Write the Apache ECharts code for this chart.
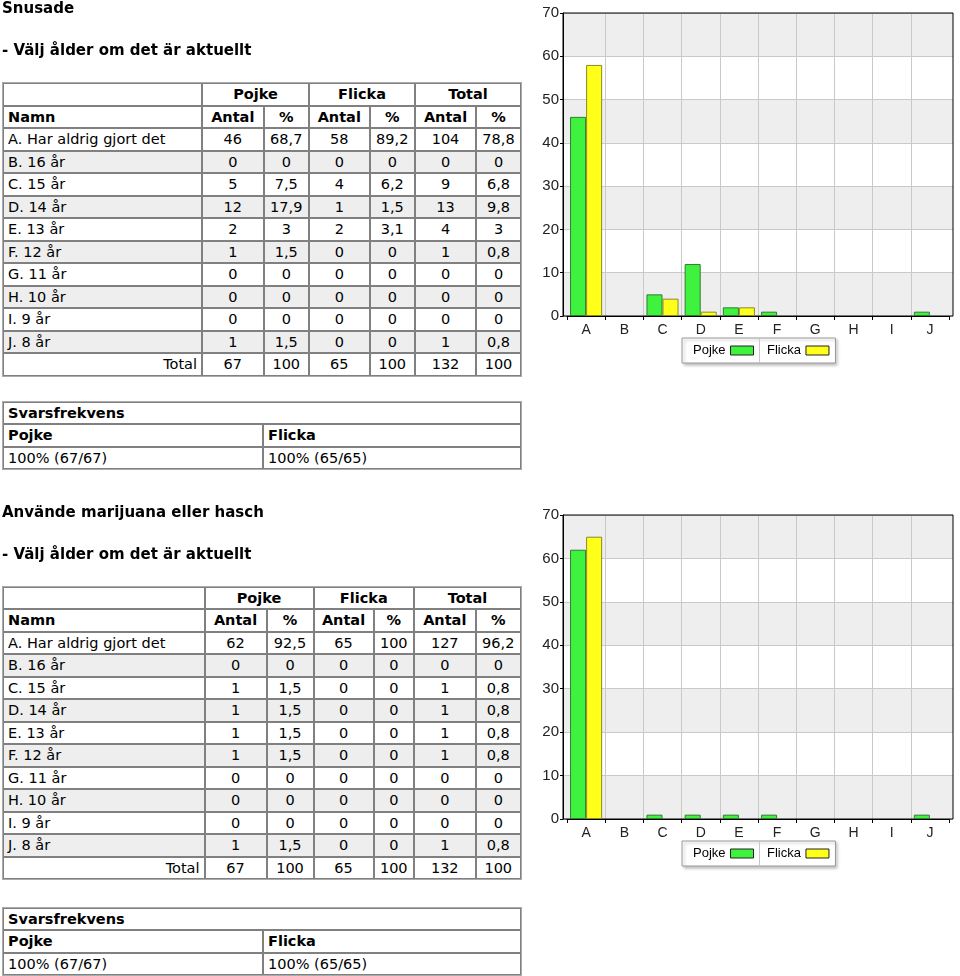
<!DOCTYPE html>
<html>
<head>
<meta charset="utf-8">
<script src="https://cdn.jsdelivr.net/npm/echarts@6/dist/echarts.min.js"></script>
<style>
html,body{margin:0;padding:0;background:#fff;}
body{width:960px;height:976px;overflow:hidden;position:relative;font-family:'DejaVu Sans',Verdana,sans-serif;font-size:14.5px;color:#000;}
#chart{position:absolute;left:0;top:0;width:960px;height:976px;z-index:0;}
.title{position:absolute;left:2px;font-weight:bold;font-size:15px;line-height:17px;white-space:nowrap;z-index:1;}
table.t{position:absolute;left:2px;border:1px solid #ababab;border-spacing:0;table-layout:fixed;width:520px;z-index:1;background:#fff;font-size:14.5px;}
table.t td{border:1px solid #808080;padding:0 4px;box-sizing:border-box;white-space:nowrap;overflow:hidden;text-align:center;vertical-align:middle;}
table.t td.l{text-align:left;}
table.t td.r{text-align:right;}
table.t td.b{font-weight:bold;}
table.t tr.g td{background:#eeeeee;}
</style>
</head>
<body>
<div id="chart"></div>
<div id="page"></div>
<script>
// ---------- data ----------
const categories = ['A','B','C','D','E','F','G','H','I','J'];
const rowNames = ['A. Har aldrig gjort det','B. 16 år','C. 15 år','D. 14 år','E. 13 år','F. 12 år','G. 11 år','H. 10 år','I. 9 år','J. 8 år'];
const groupNames = ['Pojke','Flicka','Total'];
const subHeaders = ['Antal','%'];
const yTicks = [0,10,20,30,40,50,60,70];

const snusTitle = 'Snusade';
const snusSubtitle = '- Välj ålder om det är aktuellt';
const snusPojkeAntal = [46,0,5,12,2,1,0,0,0,1];
const snusPojkePct = ['68,7','0','7,5','17,9','3','1,5','0','0','0','1,5'];
const snusFlickaAntal = [58,0,4,1,2,0,0,0,0,0];
const snusFlickaPct = ['89,2','0','6,2','1,5','3,1','0','0','0','0','0'];
const snusTotalAntal = [104,0,9,13,4,1,0,0,0,1];
const snusTotalPct = ['78,8','0','6,8','9,8','3','0,8','0','0','0','0,8'];
const snusTotals = ['67','100','65','100','132','100'];
const snusSvars = ['100% (67/67)','100% (65/65)'];

const mariTitle = 'Använde marijuana eller hasch';
const mariSubtitle = '- Välj ålder om det är aktuellt';
const mariPojkeAntal = [62,0,1,1,1,1,0,0,0,1];
const mariPojkePct = ['92,5','0','1,5','1,5','1,5','1,5','0','0','0','1,5'];
const mariFlickaAntal = [65,0,0,0,0,0,0,0,0,0];
const mariFlickaPct = ['100','0','0','0','0','0','0','0','0','0'];
const mariTotalAntal = [127,0,1,1,1,1,0,0,0,1];
const mariTotalPct = ['96,2','0','0,8','0,8','0,8','0,8','0','0','0','0,8'];
const mariTotals = ['67','100','65','100','132','100'];
const mariSvars = ['100% (67/67)','100% (65/65)'];

// ---------- page text / tables ----------
const page = document.getElementById('page');
function addTitle(text, top){
  const d = document.createElement('div');
  d.className = 'title'; d.style.top = top + 'px'; d.textContent = text;
  page.appendChild(d);
}
function buildTable(top, colW, pa, pp, fa, fp, ta, tp, totals, rowH){
  const t = document.createElement('table');
  t.className = 't'; t.style.top = top + 'px';
  let h = '<colgroup>' + colW.map(w => '<col style="width:' + w + 'px">').join('') + '</colgroup>';
  h += '<tr style="height:' + rowH + 'px"><td></td>' + groupNames.map(g => '<td class="b" colspan="2">' + g + '</td>').join('') + '</tr>';
  h += '<tr style="height:' + rowH + 'px"><td class="l b">Namn</td>' + groupNames.map(() => subHeaders.map(s => '<td class="b">' + s + '</td>').join('')).join('') + '</tr>';
  rowNames.forEach((n, i) => {
    h += '<tr class="' + (i % 2 ? 'g' : '') + '" style="height:' + rowH + 'px"><td class="l">' + n + '</td>' +
      [pa[i], pp[i], fa[i], fp[i], ta[i], tp[i]].map(v => '<td>' + v + '</td>').join('') + '</tr>';
  });
  h += '<tr style="height:' + rowH + 'px"><td class="r">Total</td>' + totals.map(v => '<td>' + v + '</td>').join('') + '</tr>';
  t.innerHTML = h;
  page.appendChild(t);
}
function buildSvars(top, svars, rowH){
  const t = document.createElement('table');
  t.className = 't'; t.style.top = top + 'px';
  let h = '<colgroup><col style="width:260px"><col style="width:258px"></colgroup>';
  h += '<tr style="height:' + rowH + 'px"><td class="l b" colspan="2">Svarsfrekvens</td></tr>';
  h += '<tr style="height:' + rowH + 'px"><td class="l b">Pojke</td><td class="l b">Flicka</td></tr>';
  h += '<tr style="height:' + rowH + 'px"><td class="l">' + svars[0] + '</td><td class="l">' + svars[1] + '</td></tr>';
  t.innerHTML = h;
  page.appendChild(t);
}
addTitle(snusTitle, 0);
addTitle(snusSubtitle, 42);
buildTable(82, [199,61.5,45.5,60.5,45.5,61,45], snusPojkeAntal, snusPojkePct, snusFlickaAntal, snusFlickaPct, snusTotalAntal, snusTotalPct, snusTotals, 22.5);
buildSvars(401, snusSvars, 22.3);
addTitle(mariTitle, 503.5);
addTitle(mariSubtitle, 546);
buildTable(585.5, [201.5,62,47,60,40.5,61.5,45.5], mariPojkeAntal, mariPojkePct, mariFlickaAntal, mariFlickaPct, mariTotalAntal, mariTotalPct, mariTotals, 22.5);
buildSvars(907, mariSvars, 22.3);

// ---------- charts ----------
const chart = echarts.init(document.getElementById('chart'), null, {renderer:'canvas'});
const FONT = 'Liberation Sans';
const GREEN = '#3ef23e', YELLOW = '#ffff1a';
const nz = arr => arr.map(v => v === 0 ? null : v);

function frameGrid(top, h){ return {left:563, top:top, width:390, height:h, show:true, borderColor:'#000', borderWidth:1, backgroundColor:'transparent', z:3}; }
function dataGrid(top, h){ return {left:567, top:top, width:382, height:h}; }

const yMin = yTicks[0], yMax = yTicks[yTicks.length-1], yInt = yTicks[1]-yTicks[0];
function frameY(gi){ return {gridIndex:gi, type:'value', min:yMin, max:yMax, interval:yInt,
  axisLine:{show:true, lineStyle:{color:'#000', width:1}},
  axisTick:{show:true, length:3, lineStyle:{color:'#000'}},
  axisLabel:{fontFamily:FONT, fontSize:15, color:'#222', margin:4},
  splitLine:{show:true, lineStyle:{color:'#c9c9c9', width:1}},
  splitArea:{show:true, areaStyle:{color:['#eeeeee','#ffffff']}}}; }
function dataY(gi){ return {gridIndex:gi, type:'value', min:yMin, max:yMax, interval:yInt, show:false, splitLine:{show:false}}; }
function frameX(gi){ return {gridIndex:gi, type:'value', min:0, max:1, show:false, splitLine:{show:false}}; }
function dataX(gi){ return {gridIndex:gi, type:'category', data:categories,
  axisLine:{show:true, lineStyle:{color:'#000'}},
  axisTick:{show:true, length:4, lineStyle:{color:'#000'}},
  axisLabel:{fontFamily:FONT, fontSize:14, color:'#222', margin:7},
  splitLine:{show:true, showMinLine:false, showMaxLine:false, lineStyle:{color:'#c9c9c9'}}}; }
function legend(top){ return {left:682, top:top, orient:'horizontal', align:'right', data:['Pojke','Flicka'],
  icon:'rect', itemWidth:23, itemHeight:9, itemGap:13, padding:[6,6,6,11],
  backgroundColor:'#fff', borderColor:'#9a9a9a', borderWidth:1,
  shadowBlur:3, shadowColor:'rgba(0,0,0,0.25)', shadowOffsetX:2, shadowOffsetY:2,
  itemStyle:{borderColor:'#222', borderWidth:1},
  textStyle:{fontFamily:FONT, fontSize:13, color:'#000'}}; }
function bars(name, data, xi, color, border){ return {name:name, type:'bar', xAxisIndex:xi, yAxisIndex:xi,
  data:nz(data), barGap:'0%', barCategoryGap:'16%', z:5,
  itemStyle:{color:color, borderColor:border, borderWidth:1}}; }

chart.setOption({
  animation:false,
  grid:[frameGrid(13,303), dataGrid(13,303), frameGrid(515,304), dataGrid(515,304)],
  xAxis:[frameX(0), dataX(1), frameX(2), dataX(3)],
  yAxis:[frameY(0), dataY(1), frameY(2), dataY(3)],
  legend:[legend(338), legend(841)],
  series:[
    bars('Pojke', snusPojkeAntal, 1, GREEN, '#347a34'),
    bars('Flicka', snusFlickaAntal, 1, YELLOW, '#8a8a2a'),
    bars('Pojke', mariPojkeAntal, 3, GREEN, '#347a34'),
    bars('Flicka', mariFlickaAntal, 3, YELLOW, '#8a8a2a')
  ],
  graphic:[
    {type:'line', shape:{x1:759.5, y1:339, x2:759.5, y2:363}, style:{stroke:'#c8c8c8', lineWidth:1}, z:100},
    {type:'line', shape:{x1:759.5, y1:842, x2:759.5, y2:866}, style:{stroke:'#c8c8c8', lineWidth:1}, z:100}
  ]
});
</script>
</body>
</html>
